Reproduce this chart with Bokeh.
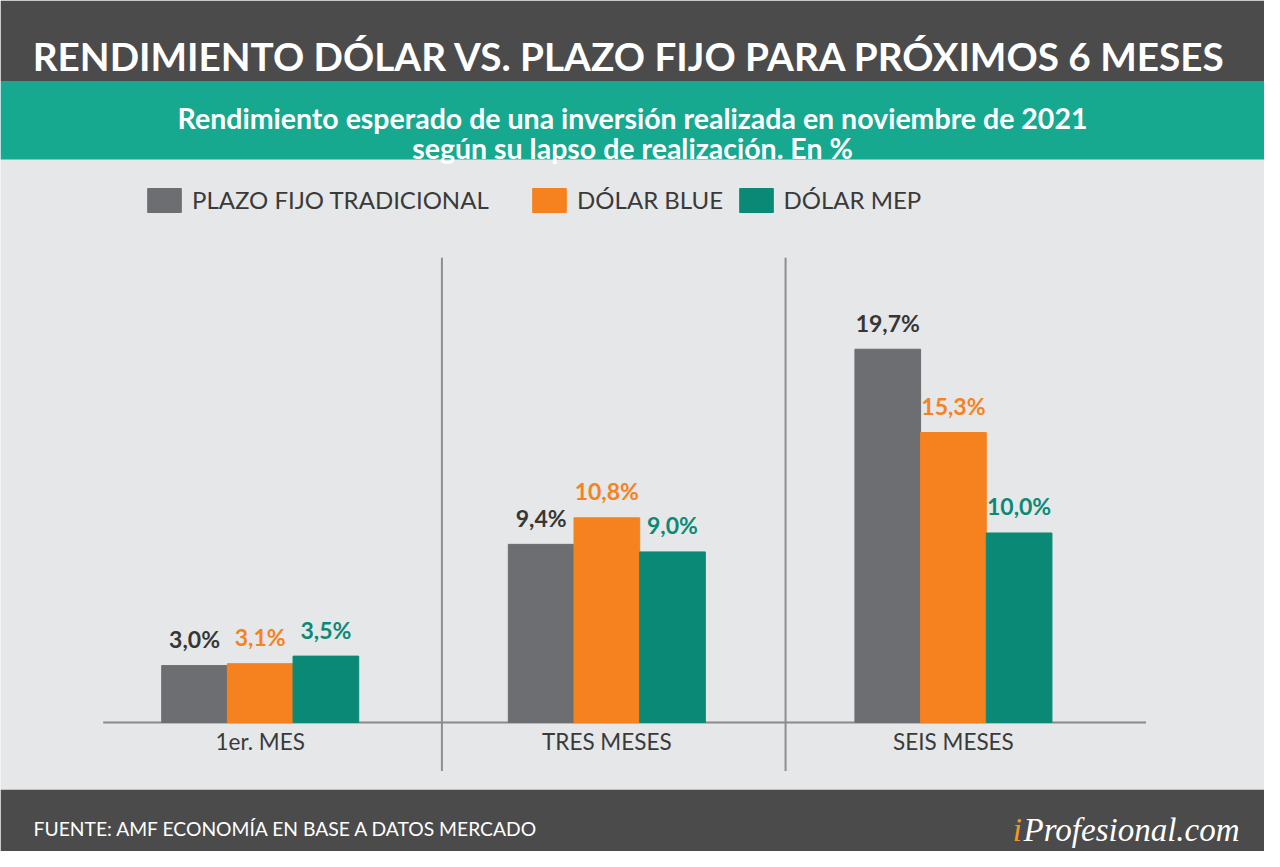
from bokeh.plotting import figure
from bokeh.models import (ColumnDataSource, LabelSet, Label, BoxAnnotation,
                          Legend, LegendItem, Range1d)
from bokeh.transform import dodge
from bokeh.core.properties import value
from bokeh.embed import file_html
from bokeh.resources import INLINE

# ---------------- data ----------------
categories = ["1er. MES", "TRES MESES", "SEIS MESES"]
series_names = ["PLAZO FIJO TRADICIONAL", "DÓLAR BLUE", "DÓLAR MEP"]
plazo_fijo = [3.0, 9.4, 19.7]
dolar_blue = [3.1, 10.8, 15.3]
dolar_mep = [3.5, 9.0, 10.0]

title_text = "RENDIMIENTO DÓLAR VS. PLAZO FIJO PARA PRÓXIMOS 6 MESES"
subtitle_lines = ["Rendimiento esperado de una inversión realizada en noviembre de 2021",
                  "según su lapso de realización. En %"]
source_text = "FUENTE:  AMF ECONOMÍA EN BASE A DATOS MERCADO"
logo_i = "i"
logo_rest = "Profesional.com"

# ---------------- layout (design drawn on a 1280x867 grid) ----------------
W, H = 1264, 851
REF_W, REF_H = 1280, 867
SX, SY = W / REF_W, H / REF_H
GROUP0_PX = 263.0     # centre of first group
GROUP_STEP = 351.0    # px between group centres
BASE_PX = 735.5       # baseline
UNIT_PX = 19.3        # px per percentage point
BAR_PX = 66.5


def ix(px):
    return (px - GROUP0_PX) / GROUP_STEP


def iy(py):
    return (BASE_PX - py) / UNIT_PX


bw = BAR_PX / GROUP_STEP

C_GRAY = "#6d6e71"
C_ORANGE = "#f5821f"
C_TEAL = "#0a8a76"
C_BAND_DARK = "#4b4b4b"
C_BAND_TEAL = "#17a98f"
C_BG = "#e6e7e8"


def fmt(v):
    return f"{v:.1f}%".replace(".", ",")


src = ColumnDataSource(dict(
    gx=list(range(len(categories))),
    cat=categories,
    pf=plazo_fijo, blue=dolar_blue, mep=dolar_mep,
    pf_lbl=[fmt(v) for v in plazo_fijo],
    blue_lbl=[fmt(v) for v in dolar_blue],
    mep_lbl=[fmt(v) for v in dolar_mep],
))

p = figure(width=W, height=H, output_backend="svg", toolbar_location=None,
           x_range=Range1d(ix(0), ix(REF_W)),
           y_range=Range1d(iy(REF_H), iy(0)),
           min_border=0, min_border_left=0, min_border_right=0,
           min_border_top=0, min_border_bottom=0)
p.xaxis.visible = False
p.yaxis.visible = False
p.grid.visible = False
p.outline_line_color = None
p.background_fill_color = C_BG
p.border_fill_color = C_BG

# header / footer bands
p.add_layout(BoxAnnotation(bottom=iy(82), fill_color=C_BAND_DARK, fill_alpha=1, line_alpha=0))
p.add_layout(BoxAnnotation(top=iy(82), bottom=iy(162), fill_color=C_BAND_TEAL, fill_alpha=1, line_alpha=0))
p.add_layout(BoxAnnotation(top=iy(804), fill_color=C_BAND_DARK, fill_alpha=1, line_alpha=0))

# separators and baseline
p.segment(x0=[ix(447), ix(795)], y0=[iy(262)] * 2, x1=[ix(447), ix(795)], y1=[iy(785)] * 2,
          line_color="#8e8e8e", line_width=2)
p.segment(x0=[ix(104)], y0=[0], x1=[ix(1160)], y1=[0], line_color="#8a8a8a", line_width=2)

# bars
r_pf = p.vbar(x=dodge("gx", -bw), top="pf", bottom=0, width=bw, source=src,
              fill_color=C_GRAY, line_color=C_GRAY)
r_blue = p.vbar(x=dodge("gx", 0), top="blue", bottom=0, width=bw, source=src,
                fill_color=C_ORANGE, line_color=C_ORANGE)
r_mep = p.vbar(x=dodge("gx", bw), top="mep", bottom=0, width=bw, source=src,
               fill_color=C_TEAL, line_color=C_TEAL)

# value labels
for fld, lbl, col, off in [("pf", "pf_lbl", "#363636", -bw),
                           ("blue", "blue_lbl", C_ORANGE, 0),
                           ("mep", "mep_lbl", C_TEAL, bw)]:
    p.add_layout(LabelSet(x=dodge("gx", off), y=fld, text=lbl, source=src,
                          y_offset=17.5, text_align="center", text_baseline="alphabetic",
                          text_font=value("Lato"), text_font_style="bold",
                          text_font_size="23px", text_color=col))

# category labels
p.add_layout(LabelSet(x="gx", y=0, text="cat", source=src, y_offset=-28,
                      text_align="center", text_baseline="alphabetic",
                      text_font=value("Lato"), text_font_size="22.5px",
                      text_color="#3a3a3a"))

# title & subtitle
p.add_layout(Label(x=ix(637), y=iy(57), text=title_text, text_align="center",
                   text_baseline="alphabetic", text_font="Lato",
                   text_font_style="bold", text_font_size="38.7px", text_color="white"))
for yy, line in zip([119.5, 150.5], subtitle_lines):
    p.add_layout(Label(x=ix(640), y=iy(yy), text=line, text_align="center",
                       text_baseline="alphabetic", text_font="Lato",
                       text_font_style="bold", text_font_size="28.5px", text_color="white"))

# legend: one item per series at its own spot
leg_left = [144.8, 534.8, 743.8]
for name, rend, lx in zip(series_names, [r_pf, r_blue, r_mep], leg_left):
    lg = Legend(items=[LegendItem(label=name, renderers=[rend])],
                location=(lx * SX, H - 219 * SY), orientation="horizontal",
                glyph_width=42, glyph_height=30, label_standoff=7,
                padding=0, margin=0, spacing=0,
                border_line_alpha=0, background_fill_alpha=0,
                label_text_font="Lato",
                label_text_font_size="24px", label_text_color="#3a3a3a",
                label_height=30)
    p.add_layout(lg)

# footer
p.add_layout(Label(x=ix(33.5), y=iy(844), text=source_text, text_align="left",
                   text_baseline="alphabetic", text_font="Lato",
                   text_font_size="19.3px", text_color="white"))
p.add_layout(Label(x=ix(1025), y=iy(845), text=logo_i, text_align="left",
                   text_baseline="alphabetic", text_font="Liberation Serif",
                   text_font_style="italic", text_font_size="33px", text_color="#f39a1e"))
p.add_layout(Label(x=ix(1036), y=iy(845), text=logo_rest, text_align="left",
                   text_baseline="alphabetic", text_font="Liberation Serif",
                   text_font_style="italic", text_font_size="33px", text_color="white"))

open("out.html", "w").write(file_html(p, INLINE))
